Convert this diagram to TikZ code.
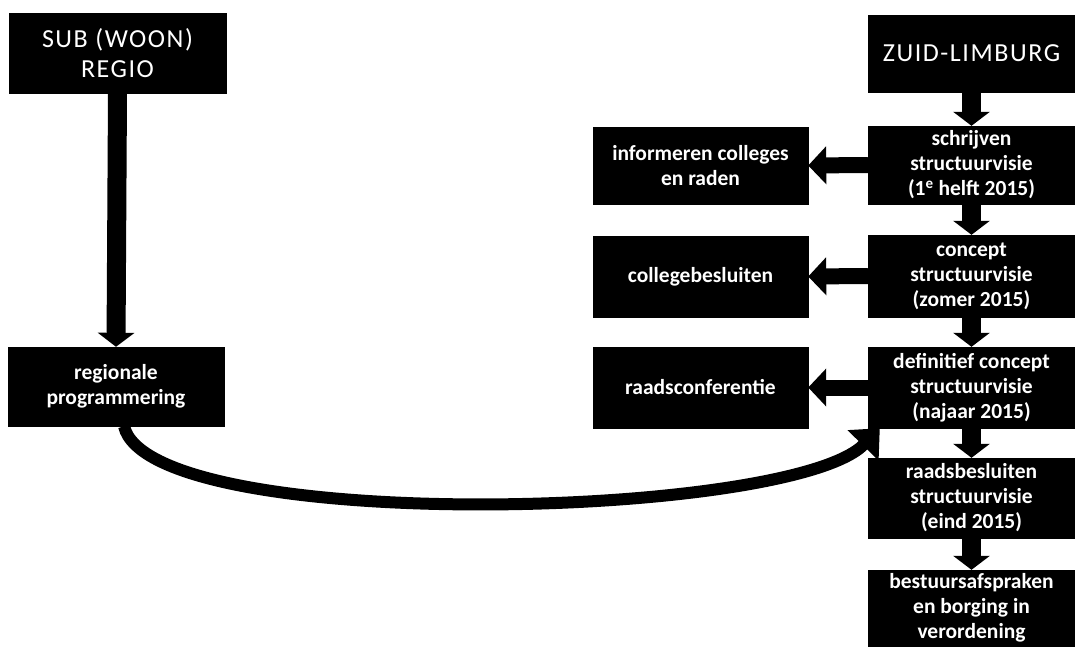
\documentclass[tikz,border=0pt]{standalone}
\usepackage{fontspec}
\setmainfont{Carlito}
\newfontfamily\headfont[LetterSpace=6]{Carlito}
\usetikzlibrary{arrows.meta}
\tikzset{
  box/.style={shape=rectangle,fill=black,draw=black,text=white,
              align=center,inner sep=0pt,
              font=\bfseries\fontsize{21.5}{25}\selectfont},
  headbox/.style={box,font=\headfont\fontsize{26}{30}\selectfont},
  downarrow/.style={line width=19pt,-{Triangle[width=36pt,length=14pt]}},
  sidearrow/.style={line width=16pt,-{Triangle[width=37pt,length=18pt]}},
  curvearrow/.style={line width=12pt,-{Triangle[width=42pt,length=24pt]}}
}

\begin{document}
\begin{tikzpicture}[x=1pt,y=-1pt]
  \useasboundingbox (0,0) rectangle (1075,646);
  % left column
  \draw node(subregio)[headbox,minimum width=217pt,minimum height=80pt,
        at={(117.5,53)}]{SUB (WOON)\\REGIO};
  \draw node(regprog)[box,minimum width=216pt,minimum height=79pt,
        at={(116,386.5)}]{regionale\\programmering};
  % right column
  \draw node(zuid)[headbox,minimum width=207pt,minimum height=77pt,
        at={(971.5,53.5)}]{ZUID-LIMBURG};
  \draw node(schrijven)[box,minimum width=207pt,minimum height=78pt,
        at={(971.5,165)}]{schrijven\\structuurvisie\\(1\textsuperscript{e} helft 2015)};
  \draw node(concept)[box,minimum width=207pt,minimum height=82pt,
        at={(971.5,276)}]{concept\\structuurvisie\\(zomer 2015)};
  \draw node(definitief)[box,minimum width=207pt,minimum height=81pt,
        at={(971.5,387.5)}]{definitief concept\\structuurvisie\\(najaar 2015)};
  \draw node(raadsbesl)[box,minimum width=207pt,minimum height=80pt,
        at={(971.5,498)}]{raadsbesluiten\\structuurvisie\\(eind 2015)};
  \draw node(bestuur)[box,minimum width=207pt,minimum height=76pt,
        at={(971.5,608)}]{bestuursafspraken\\en borging in\\verordening};
  % middle column
  \draw node(informeren)[box,minimum width=215pt,minimum height=77pt,
        at={(700.5,165.5)}]{informeren colleges\\en raden};
  \draw node(collegeb)[box,minimum width=215pt,minimum height=81pt,
        at={(700.5,276.5)}]{collegebesluiten};
  \draw node(raadsconf)[box,minimum width=215pt,minimum height=81pt,
        at={(700.5,387.5)}]{raadsconferentie};

  \draw[downarrow] (subregio.south) -- (regprog.north);
  \draw[downarrow] (zuid.south) -- (schrijven.north);
  \draw[downarrow] (schrijven.south) -- (concept.north);
  \draw[downarrow] (concept.south) -- (definitief.north);
  \draw[downarrow] (definitief.south) -- (raadsbesl.north);
  \draw[downarrow] (raadsbesl.south) -- (bestuur.north);
  \draw[sidearrow] (schrijven.west) -- (informeren.east);
  \draw[sidearrow] (concept.west) -- (collegeb.east);
  \draw[sidearrow] (definitief.west) -- (raadsconf.east);
  \draw[curvearrow] ([xshift=8pt]regprog.south)
        .. controls (150,535) and (790,520) .. ([xshift=12pt]definitief.south west);
\end{tikzpicture}
\end{document}
